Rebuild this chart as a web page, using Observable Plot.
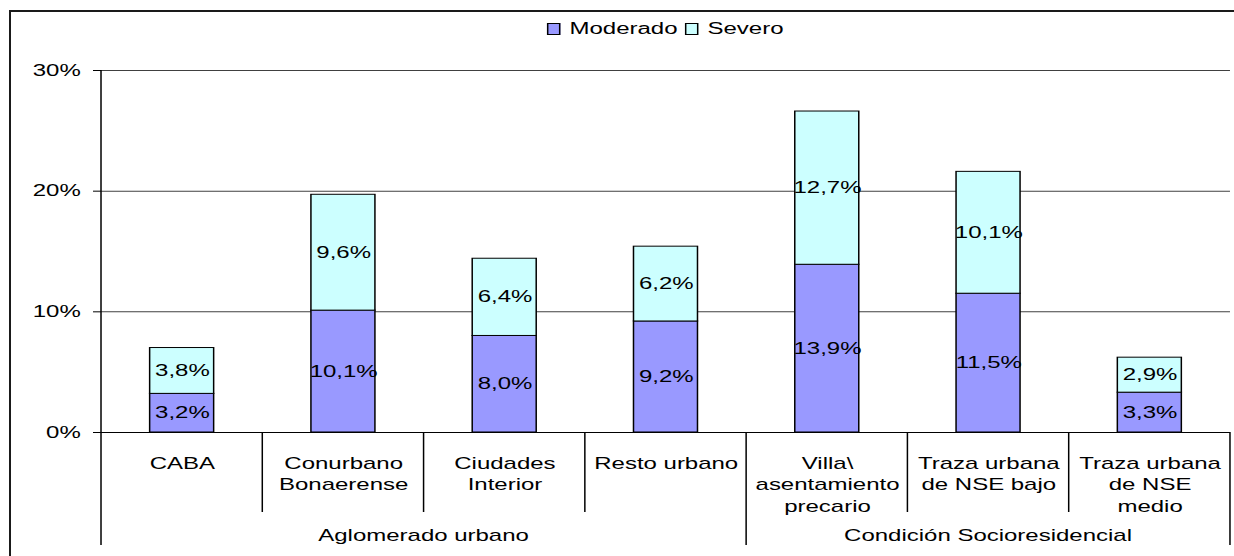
<!DOCTYPE html>
<html>
<head>
<meta charset="utf-8">
<script src="https://cdn.jsdelivr.net/npm/d3@7"></script>
<script src="https://cdn.jsdelivr.net/npm/@observablehq/plot@0.6"></script>
<style>
  html, body { margin: 0; padding: 0; background: #fff; overflow: hidden; width: 1234px; height: 556px; }
  #frame { position: absolute; left: 9px; top: 10px; width: 1400px; height: 700px;
           border-left: 2px solid #1a1a1a; border-top: 2px solid #1a1a1a; }
  #wrap { position: absolute; left: 0; top: 0; width: 822.67px; height: 556px;
          transform-origin: 0 0; transform: scaleX(1.5);
          font-family: "Liberation Sans", Arial, sans-serif; }
  #legend { position: absolute; top: 21px; left: 446px; transform: translateX(-50%);
            display: flex; align-items: center; font-size: 16px; line-height: 16px; white-space: nowrap; color: #000; }
  .sw { display: inline-block; width: 7px; height: 10px; border: 1px solid #000; margin-right: 6px; }
  .item { display: flex; align-items: center; margin-right: 5px; }
  #chart { position: absolute; left: 0; top: 0; }
</style>
</head>
<body>
<div id="frame"></div>
<div id="wrap">
  <div id="legend"></div>
  <div id="chart"></div>
</div>
<script>
// ---- data ----
const categories = ["CABA", "Conurbano Bonaerense", "Ciudades Interior", "Resto urbano",
  "Villa\\ asentamiento precario", "Traza urbana de NSE bajo", "Traza urbana de NSE medio"];
const categoryLabels = ["CABA", "Conurbano\nBonaerense", "Ciudades\nInterior", "Resto urbano",
  "Villa\\\nasentamiento\nprecario", "Traza urbana\nde NSE bajo", "Traza urbana\nde NSE\nmedio"];
const moderado = [3.2, 10.1, 8.0, 9.2, 13.9, 11.5, 3.3];
const severo = [3.8, 9.6, 6.4, 6.2, 12.7, 10.1, 2.9];
const series = ["Moderado", "Severo"];
const seriesColors = ["#9999FF", "#CCFFFF"];
const groups = ["Aglomerado urbano", "Condición Socioresidencial"];
const groupSpans = [[0, 4], [4, 7]];
const yTicks = [0, 10, 20, 30];

// ---- table ----
const data = categories.flatMap((c, i) => [
  {cat: c, series: series[0], value: moderado[i]},
  {cat: c, series: series[1], value: severo[i]}
]);
const fmt = v => v.toFixed(1).replace(".", ",") + "%";

// ---- legend ----
const legend = document.getElementById("legend");
series.forEach((s, i) => {
  const it = document.createElement("span");
  it.className = "item";
  const sw = document.createElement("span");
  sw.className = "sw";
  sw.style.background = seriesColors[i];
  it.appendChild(sw);
  it.appendChild(document.createTextNode(s));
  legend.appendChild(it);
});

// ---- chart ----
const SX = 1.5;
const W = 1234 / SX;
const bandPx = (1230 - 101) / categories.length / SX;
const inset = (bandPx - 64 / SX) / 2;

const separators = (index, scales, values, dims) => {
  const g = d3.create("svg:g");
  const x = scales.x, y = scales.y;
  const n = categories.length;
  const bw = x.bandwidth ? x.bandwidth() : (dims.width - dims.marginLeft - dims.marginRight) / n;
  const y0 = y(0);
  const bounds = categories.map(c => x(c)).concat([x(categories[n - 1]) + bw]);
  bounds.forEach((bx, i) => {
    const isGroup = groupSpans.some(s => s[0] === i || s[1] === i);
    g.append("line")
      .attr("x1", bx).attr("x2", bx)
      .attr("y1", i === 0 ? y(30) : y0)
      .attr("y2", y0 + (isGroup ? 113 : 80))
      .attr("stroke", "#000").attr("stroke-width", 1);
  });
  groups.forEach((name, k) => {
    const [a, b] = groupSpans[k];
    g.append("text")
      .attr("x", (bounds[a] + bounds[b]) / 2)
      .attr("y", y0 + 103)
      .attr("dy", "0.35em")
      .attr("text-anchor", "middle")
      .attr("fill", "#000")
      .attr("font-size", 16)
      .text(name);
  });
  return g.node();
};

const chart = Plot.plot({
  width: W,
  height: 556,
  marginLeft: 101 / SX,
  marginRight: W - 1230 / SX,
  marginTop: 70,
  marginBottom: 124,
  x: {domain: categories, padding: 0, round: false, axis: null},
  y: {domain: [0, 30], axis: null},
  color: {domain: series, range: seriesColors},
  style: {fontFamily: '"Liberation Sans", Arial, sans-serif', fontSize: "16px", color: "#000", background: "transparent", overflow: "visible"},
  marks: [
    Plot.ruleY([10, 20, 30], {stroke: "#404040", strokeWidth: 1}),
    Plot.barY(data, {x: "cat", y: "value", fill: "series", stroke: "#000", strokeWidth: 1, insetLeft: inset, insetRight: inset}),
    Plot.text(data, Plot.stackY({x: "cat", y: "value", z: "series", text: d => fmt(d.value), fill: "#000", fontSize: 16})),
    Plot.ruleY([0], {stroke: "#000", strokeWidth: 1}),
    Plot.axisY({ticks: yTicks, tickFormat: d => d + "%", tickSize: 8 / SX, tickPadding: 8.7, fontSize: 16, label: null, stroke: "#000"}),
    Plot.text(categories, {x: d => d, text: (d, i) => categoryLabels[i], frameAnchor: "bottom", dy: 21, lineAnchor: "top", lineHeight: 1.34, fontSize: 16, fill: "#000"}),
    separators
  ]
});
document.getElementById("chart").appendChild(chart);
</script>
</body>
</html>
